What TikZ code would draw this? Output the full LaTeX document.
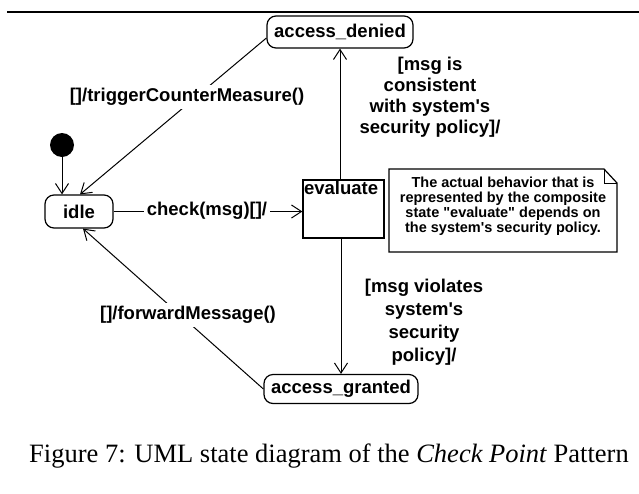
\documentclass[tikz,border=0pt]{standalone}
\usepackage{fontspec}
\setmainfont{Liberation Serif}
\newfontfamily\umlfont{Liberation Sans}
\usetikzlibrary{arrows.meta,calc}

\begin{document}
\begin{tikzpicture}[x=1pt,y=-1pt,
  every node/.style={font=\umlfont\bfseries\fontsize{18.5}{21}\selectfont},
  state/.style={draw, rounded corners=9pt, line width=1.2pt, inner sep=0pt},
  trans/.style={line width=1pt, -{Straight Barb[length=10pt,width=13pt,line width=1pt]}},
  lbl/.style={fill=white, inner sep=3pt, align=center},
  guard/.style={align=center, inner sep=0pt},
  notestyle/.style={draw, line width=1.2pt, line join=miter},
]
\useasboundingbox (0,0) rectangle (639,493);

% rule above the figure
\draw[line width=2pt] (7,12) -- (639,12);

% states
\node[state, minimum width=146pt, minimum height=32pt] (denied) at (340,32) {access\_denied};
\node[state, minimum width=154pt, minimum height=29pt] (granted) at (341,389) {access\_granted};
\node[state, minimum width=68pt, minimum height=33pt] (idle) at (79,211.5) {idle};
\node[fill, circle, minimum size=24pt, inner sep=0pt] (init) at (62,145) {};
\node[draw, line width=1.2pt, minimum width=81pt, minimum height=58pt, inner sep=0pt] (eval) at (343.5,209) {};
\node[anchor=north west, inner sep=1.5pt] (evaltxt) at (eval.north west) {evaluate};

% comment note with folded corner
\coordinate (nNW) at (389,169);
\coordinate (nFold) at (604,169);
\coordinate (nFoldIn) at (604,183);
\coordinate (nNE) at (617,183);
\coordinate (nSE) at (617,252);
\coordinate (nSW) at (389,252);
\draw[notestyle] (nNW) -- (nFold) -- (nNE) -- (nSE) -- (nSW) -- cycle;
\draw[line width=1pt] (nFold) -- (nFoldIn) -- (nNE);
\node[align=center, inner sep=0pt, font=\umlfont\bfseries\fontsize{14.5}{15}\selectfont] (notetxt) at (503,206)
  {The actual behavior that is\\represented by the composite\\state "evaluate" depends on\\the system's security policy.};

% transitions
\draw[trans] (init.south) -- (init.south |- idle.north);
\draw[trans] ([yshift=-6pt]denied.west) -- ([xshift=1pt]idle.north);
\draw[trans] (idle.east) -- (idle.east -| eval.west);
\draw[trans] (denied.south |- eval.north) -- (denied.south);
\draw[trans] (granted.north |- eval.south) -- (granted.north);
\draw[trans] (granted.west) -- ([xshift=4pt]idle.south);

% transition labels
\node[lbl] (lblTrig) at (187,97) {[]/triggerCounterMeasure()};
\node[lbl] (lblCheck) at (207,211) {check(msg)[]/};
\node[lbl] (lblFwd) at (188,315) {[]/forwardMessage()};
\node[guard] (lblOk) at (430,97) {[msg is\\consistent\\with system's\\security policy]/};
\node[guard, font=\umlfont\bfseries\fontsize{18.5}{23}\selectfont] (lblBad) at (424,322)
  {[msg violates\\system's\\security\\policy]/};

% caption
\node[font=\rmfamily\fontsize{26.5}{30}\selectfont] (caption) at (329,456)
  {Figure 7: UML state diagram of the \textit{Check Point} Pattern};
\end{tikzpicture}
\end{document}
